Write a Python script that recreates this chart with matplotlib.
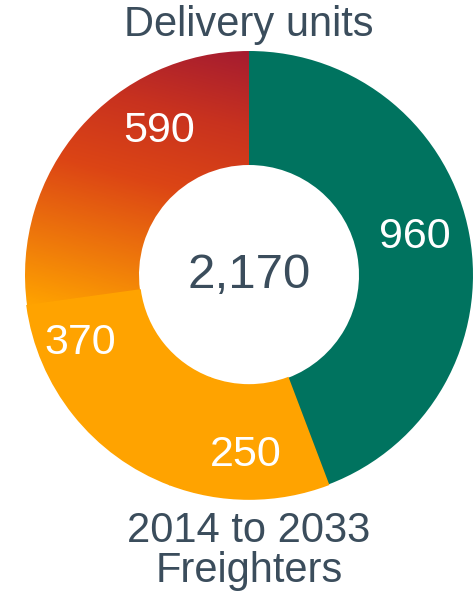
import numpy as np
import matplotlib.pyplot as plt
from matplotlib.colors import LinearSegmentedColormap

# data
values = [960, 250, 370, 590]
labels = ['960', '250', '370', '590']
colors = ['#00735f', '#ffa300', '#ffa300', '#ffa300']
total_label = '2,170'
title = 'Delivery units'
subtitle = ['2014 to 2033', 'Freighters']

plt.rcParams['font.family'] = ['Liberation Sans', 'DejaVu Sans']
text_col = '#3b4d5c'

fig = plt.figure(figsize=(4.77, 5.93), dpi=100)
ax = fig.add_axes([0, 0, 1, 1])

cx, cy = 249, 318
R = 224
W = 114

wedges, _ = ax.pie(values, colors=colors, startangle=90, counterclock=False,
                   center=(cx, cy), radius=R, frame=True,
                   wedgeprops=dict(width=W, linewidth=0))
ax.set_xlim(0, 477)
ax.set_ylim(0, 593)
ax.axis('off')

# hide seams between the orange pieces
for w in wedges[1:3]:
    w.set_edgecolor(w.get_facecolor())
    w.set_linewidth(1.2)

# gradient fill on the last wedge
cmap = LinearSegmentedColormap.from_list(
    'grad', [(0, '#ffa300'), (0.2, '#f07d0a'), (0.5, '#dc4515'),
             (0.75, '#c8321f'), (1, '#a51c30')])
gw = wedges[3]
gw.set_facecolor('none')
xs = np.linspace(cx - R, cx, 300)
ys = np.linspace(cy - 40, cy + R, 300)
X, Y = np.meshgrid(xs, ys)
t = ((Y - (cy - 30)) + 0.25 * (X - (cx - R))) / (R + 30 + 0.25 * R)
t = np.clip(t, 0, 1)
im = ax.imshow(t, extent=(xs[0], xs[-1], ys[0], ys[-1]), origin='lower',
               cmap=cmap, vmin=0, vmax=1, aspect='auto', zorder=0.5)
im.set_clip_path(gw)
for w in wedges[1:3]:
    w.set_zorder(1)

# value labels (angle from top clockwise, radius)
label_pos = [(77, 170), (181, 180), (248, 182), (328, 170)]
for lab, (ang, r) in zip(labels, label_pos):
    a = np.radians(ang)
    ax.text(cx + r * np.sin(a), cy + r * np.cos(a), lab, color='white',
            fontsize=31, ha='center', va='center', zorder=3)

ax.text(cx, cy, total_label, color=text_col, fontsize=35.5,
        ha='center', va='center', zorder=3)
ax.text(cx, 568, title, color=text_col, fontsize=30, ha='center', va='center')
ax.text(cx, 62, subtitle[0], color=text_col, fontsize=30, ha='center', va='center')
ax.text(cx, 22, subtitle[1], color=text_col, fontsize=30, ha='center', va='center')

fig.savefig('out.png', dpi=100)
